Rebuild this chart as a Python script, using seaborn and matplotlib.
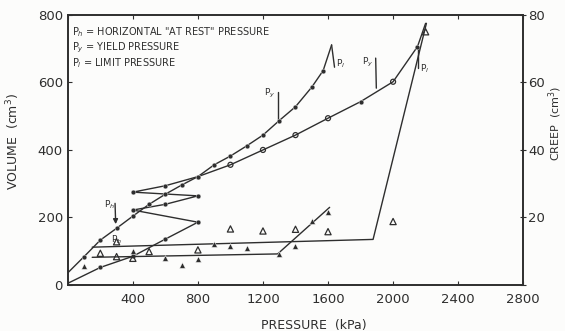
import matplotlib
matplotlib.use("Agg")
import matplotlib.pyplot as plt
import seaborn as sns
import pandas as pd

# pressure-volume data, test 1 (filled dots, upper curve)
t1_pressure = [0, 100, 200, 300, 400, 500, 600, 700, 800, 900, 1000, 1100, 1200, 1300, 1400, 1500, 1570, 1622]
t1_volume = [36, 84, 133, 168, 204, 239, 269, 296, 321, 356, 382, 412, 444, 487, 528, 586, 635, 711]

# pressure-volume data, test 2 (cyclic loading, lower curve)
t2_pressure = [0, 200, 400, 600, 800, 400, 600, 800, 400, 600, 800, 1000, 1200, 1400, 1600, 1800, 2000, 2150, 2200]
t2_volume = [5, 52, 85, 136, 186, 222, 239, 264, 275, 294, 321, 356, 400, 444, 494, 543, 602, 706, 775]
t2_open = [False, False, False, False, False, False, False, False, False, False, False,
           True, True, True, True, False, True, False, False]

# creep readings (right axis)
c1_pressure = [100, 400, 600, 700, 800, 900, 1000, 1100, 1300, 1400, 1500, 1600]
c1_creep = [5.6, 10.0, 7.9, 5.9, 7.6, 12.1, 11.6, 10.9, 9.1, 11.6, 19.0, 21.7]
c2_pressure = [200, 300, 300, 400, 500, 800, 1000, 1200, 1400, 1600, 2000, 2200]
c2_creep = [9.4, 12.8, 8.4, 7.9, 9.9, 10.4, 16.6, 16.0, 16.5, 15.8, 18.8, 75.0]

# fitted creep lines
c1_line_p = [150, 1290, 1610]
c1_line_c = [8.2, 9.2, 23.0]
c2_line_p = [150, 1877, 2205]
c2_line_c = [11.2, 13.5, 77.5]

ink = "#2e2e2e"
sns.set_style("ticks")
plt.rcParams["font.family"] = ["DejaVu Sans"]

fig = plt.figure(figsize=(5.65, 3.31), dpi=100)
fig.patch.set_facecolor("#fcfcfb")
ax = fig.add_axes([0.120, 0.139, 0.806, 0.816])
ax.set_facecolor("#fcfcfb")
ax2 = ax.twinx()

t1 = pd.DataFrame({"p": t1_pressure, "v": t1_volume})
t2 = pd.DataFrame({"p": t2_pressure, "v": t2_volume, "open": t2_open})

sns.lineplot(data=t1, x="p", y="v", sort=False, estimator=None, color=ink, lw=1.0, ax=ax)
sns.lineplot(data=t2, x="p", y="v", sort=False, estimator=None, color=ink, lw=1.0, ax=ax)
sns.scatterplot(data=t1.iloc[1:-1], x="p", y="v", color=ink, s=12, marker="o", ax=ax, zorder=3)
sns.scatterplot(data=t2[(~t2["open"]) & (t2["p"] > 0) & (t2["v"] < 770)], x="p", y="v",
                color=ink, s=12, marker="o", ax=ax, zorder=3)
sns.scatterplot(data=t2[t2["open"]], x="p", y="v", facecolor="none", edgecolor=ink,
                linewidth=0.9, s=13, marker="o", ax=ax, zorder=3)

# creep on right axis
sns.lineplot(x=c1_line_p, y=c1_line_c, color=ink, lw=1.0, ax=ax2)
sns.lineplot(x=c2_line_p, y=c2_line_c, color=ink, lw=1.0, ax=ax2)
sns.scatterplot(x=c1_pressure, y=c1_creep, color=ink, s=18, marker="^", ax=ax2, zorder=3)
sns.scatterplot(x=c2_pressure, y=c2_creep, facecolor="none", edgecolor=ink,
                linewidth=0.9, s=20, marker="^", ax=ax2, zorder=3)

# P_h, P_y, P_l markers
ax.annotate("", xy=(295, 172), xytext=(290, 250),
            arrowprops=dict(arrowstyle="-|>", color=ink, lw=1.0, mutation_scale=7))
ax.text(255, 237, "P$_h$", fontsize=6.5, color=ink, ha="center", va="center")
ax.text(300, 133, "P$_h$", fontsize=6.5, color=ink, ha="center", va="center")
ax.plot([1290, 1290], [573, 489], color=ink, lw=1.0)
ax.text(1240, 566, "P$_y$", fontsize=6.5, color=ink, ha="center", va="center")
ax.plot([1622, 1640], [711, 645], color=ink, lw=1.0)
ax.text(1680, 655, "P$_l$", fontsize=6.5, color=ink, ha="center", va="center")
ax.plot([1893, 1897], [672, 583], color=ink, lw=1.0)
ax.text(1845, 660, "P$_y$", fontsize=6.5, color=ink, ha="center", va="center")
ax.plot([2155, 2155], [642, 706], color=ink, lw=1.0)
ax.text(2195, 640, "P$_l$", fontsize=6.5, color=ink, ha="center", va="center")

# key
ax.text(25, 750, 'P$_h$ = HORIZONTAL "AT REST" PRESSURE', fontsize=7, color=ink, va="center")
ax.text(25, 702, "P$_y$ = YIELD PRESSURE", fontsize=7, color=ink, va="center")
ax.text(25, 658, "P$_l$ = LIMIT PRESSURE", fontsize=7, color=ink, va="center")

ax.set_xlim(0, 2800)
ax.set_ylim(0, 800)
ax2.set_ylim(0, 80)
xt = [0, 400, 800, 1200, 1600, 2000, 2400, 2800]
ax.set_xticks(xt)
ax.set_xticklabels([""] + [str(t) for t in xt[1:]])
ax.set_yticks([0, 200, 400, 600, 800])
ax2.set_yticks([0, 20, 40, 60, 80])
ax2.set_yticklabels(["", "20", "40", "60", "80"])

ax.tick_params(axis="x", direction="in", top=True, length=3, labelsize=9.5, colors=ink, pad=6)
ax.tick_params(axis="y", direction="in", length=3, labelsize=9.5, colors=ink)
ax2.tick_params(axis="y", direction="inout", length=5, labelsize=9.5, colors=ink, pad=1)

ax.set_xlabel("PRESSURE  (kPa)", fontsize=9, color=ink)
ax.xaxis.set_label_coords(0.54, -0.125)
ax.set_ylabel("VOLUME  (cm$^3$)", fontsize=9, color=ink)
ax.yaxis.set_label_coords(-0.10, 0.53)
ax2.set_ylabel("CREEP  (cm$^3$)", fontsize=8, color=ink)
ax2.yaxis.set_label_coords(1.050, 0.60)

for a in (ax, ax2):
    for s in a.spines.values():
        s.set_color(ink)
        s.set_linewidth(1.2)

fig.savefig("out.png", dpi=100, facecolor=fig.get_facecolor())
